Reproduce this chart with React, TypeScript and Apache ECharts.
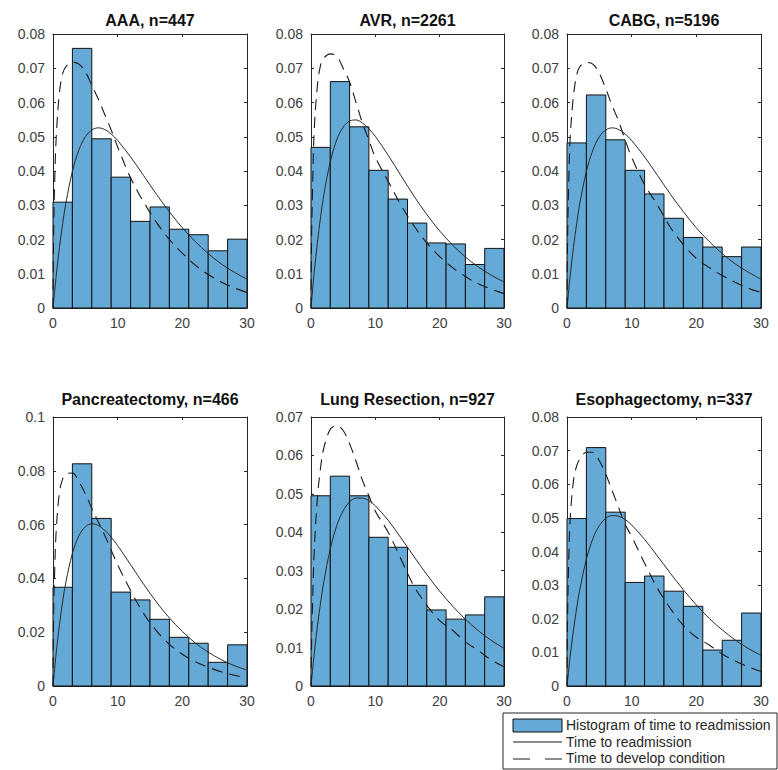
import React, { useEffect, useRef } from "react";
import * as echarts from "echarts";

// ---------- data ----------
const TITLES = [
  "AAA, n=447",
  "AVR, n=2261",
  "CABG, n=5196",
  "Pancreatectomy, n=466",
  "Lung Resection, n=927",
  "Esophagectomy, n=337",
];

const BIN_EDGES = [0, 3, 6, 9, 12, 15, 18, 21, 24, 27, 30];

const HIST_AAA = [0.0309, 0.0758, 0.0494, 0.0382, 0.0253, 0.0295, 0.023, 0.0214, 0.0167, 0.0201];
const HIST_AVR = [0.0469, 0.0661, 0.0529, 0.0402, 0.0318, 0.0248, 0.019, 0.0187, 0.0127, 0.0174];
const HIST_CABG = [0.0482, 0.0622, 0.0491, 0.0402, 0.0333, 0.0262, 0.0206, 0.0178, 0.015, 0.0178];
const HIST_PANC = [0.0367, 0.0826, 0.0623, 0.0349, 0.032, 0.0248, 0.0181, 0.0159, 0.0088, 0.0153];
const HIST_LUNG = [0.0495, 0.0546, 0.0495, 0.0387, 0.0361, 0.0262, 0.0198, 0.0174, 0.0185, 0.0232];
const HIST_ESOPH = [0.0498, 0.0709, 0.0517, 0.0308, 0.0327, 0.0282, 0.0237, 0.0107, 0.0136, 0.0217];

// "Time to readmission" (solid)
const SOLID_X = [0, 0.5, 1, 1.5, 2, 3, 4, 5, 6, 7, 8, 9, 10, 12, 14, 16, 18, 20, 22, 24, 26, 28, 30];
const SOLID_AAA = [0, 0.0095, 0.0177, 0.0247, 0.0307, 0.0399, 0.0461, 0.05, 0.052, 0.0526, 0.0521, 0.0508, 0.0489, 0.0441, 0.0387, 0.0332, 0.0281, 0.0234, 0.0194, 0.0159, 0.0129, 0.0105, 0.0084];
const SOLID_AVR = [0, 0.0104, 0.0192, 0.0267, 0.0331, 0.0427, 0.0491, 0.0528, 0.0546, 0.0549, 0.054, 0.0523, 0.0501, 0.0446, 0.0386, 0.0327, 0.0273, 0.0225, 0.0184, 0.0149, 0.012, 0.0096, 0.0076];
const SOLID_CABG = [0, 0.0095, 0.0177, 0.0247, 0.0307, 0.0399, 0.0461, 0.05, 0.052, 0.0526, 0.0521, 0.0508, 0.0489, 0.0441, 0.0387, 0.0332, 0.0281, 0.0234, 0.0194, 0.0159, 0.0129, 0.0105, 0.0084];
const SOLID_PANC = [0, 0.0124, 0.0228, 0.0315, 0.0387, 0.0493, 0.0558, 0.0592, 0.0603, 0.0597, 0.0579, 0.0553, 0.0522, 0.0451, 0.0379, 0.0312, 0.0253, 0.0203, 0.016, 0.0126, 0.0098, 0.0076, 0.0059];
const SOLID_LUNG = [0, 0.0083, 0.0156, 0.0218, 0.0272, 0.0357, 0.0417, 0.0456, 0.0479, 0.0489, 0.0489, 0.0482, 0.0469, 0.0431, 0.0385, 0.0337, 0.029, 0.0247, 0.0208, 0.0174, 0.0144, 0.0119, 0.0098];
const SOLID_ESOPH = [0, 0.0089, 0.0166, 0.0232, 0.0289, 0.0377, 0.0438, 0.0477, 0.0499, 0.0507, 0.0505, 0.0495, 0.0479, 0.0436, 0.0386, 0.0335, 0.0286, 0.0241, 0.0201, 0.0167, 0.0137, 0.0112, 0.0091];

// "Time to develop condition" (dashed)
const DASHED_X = [0, 0.1, 0.25, 0.5, 1, 1.5, 2, 3, 4, 5, 6, 7, 8, 9, 10, 12, 14, 16, 18, 20, 22, 24, 26, 28, 30];
const DASHED_AAA = [0, 0.022, 0.036, 0.05, 0.063, 0.0685, 0.0705, 0.0718, 0.0712, 0.069, 0.065, 0.061, 0.0565, 0.052, 0.047, 0.038, 0.031, 0.025, 0.02, 0.016, 0.0125, 0.0098, 0.0076, 0.0059, 0.0045];
const DASHED_AVR = [0, 0.022, 0.035, 0.052, 0.065, 0.071, 0.073, 0.0742, 0.0735, 0.07, 0.066, 0.06, 0.054, 0.049, 0.044, 0.037, 0.03, 0.024, 0.019, 0.015, 0.0118, 0.0092, 0.0071, 0.0055, 0.0042];
const DASHED_CABG = [0, 0.022, 0.035, 0.05, 0.062, 0.068, 0.0705, 0.0717, 0.0712, 0.0685, 0.064, 0.059, 0.0545, 0.049, 0.044, 0.036, 0.03, 0.0235, 0.0185, 0.0145, 0.0118, 0.0095, 0.0075, 0.0058, 0.0045];
const DASHED_PANC = [0, 0.027, 0.042, 0.058, 0.072, 0.077, 0.0788, 0.0792, 0.076, 0.0715, 0.066, 0.061, 0.056, 0.0505, 0.045, 0.0355, 0.027, 0.0205, 0.0155, 0.0118, 0.009, 0.007, 0.0053, 0.004, 0.003];
const DASHED_LUNG = [0, 0.012, 0.022, 0.035, 0.049, 0.057, 0.062, 0.0668, 0.0678, 0.0665, 0.063, 0.0585, 0.0535, 0.0495, 0.0455, 0.04, 0.033, 0.026, 0.021, 0.017, 0.0145, 0.0115, 0.0092, 0.0068, 0.005];
const DASHED_ESOPH = [0, 0.022, 0.036, 0.05, 0.061, 0.0655, 0.0675, 0.0695, 0.0695, 0.067, 0.063, 0.058, 0.053, 0.048, 0.0445, 0.0365, 0.029, 0.023, 0.018, 0.0145, 0.0122, 0.0095, 0.0074, 0.0057, 0.0043];

const Y_MAX = [0.08, 0.08, 0.08, 0.1, 0.07, 0.08];
const Y_STEP = [0.01, 0.01, 0.01, 0.02, 0.01, 0.01];
const X_TICKS = { min: 0, max: 30, step: 10 };

const LEGEND_LABELS = [
  "Histogram of time to readmission",
  "Time to readmission",
  "Time to develop condition",
];

const HISTS = [HIST_AAA, HIST_AVR, HIST_CABG, HIST_PANC, HIST_LUNG, HIST_ESOPH];
const SOLIDS = [SOLID_AAA, SOLID_AVR, SOLID_CABG, SOLID_PANC, SOLID_LUNG, SOLID_ESOPH];
const DASHEDS = [DASHED_AAA, DASHED_AVR, DASHED_CABG, DASHED_PANC, DASHED_LUNG, DASHED_ESOPH];

// ---------- layout / style ----------
const COL_LEFT = [53, 311, 567];
const COL_WIDTH = [194, 193, 194];
const ROW_TOP = [34, 417];
const ROW_HEIGHT = [274, 269];
const TITLE_Y = [20, 399];

const FONT = "'Liberation Sans', Arial, Helvetica, sans-serif";
const AX = "#262626";
const BAR_FILL = "#65A9D7";
const LABEL_COLOR = "#404040";

function buildOption() {
  const grid: any[] = [];
  const xAxis: any[] = [];
  const yAxis: any[] = [];
  const series: any[] = [];
  const graphic: any[] = [];

  for (let i = 0; i < 6; i++) {
    const r = Math.floor(i / 3);
    const c = i % 3;
    grid.push({
      left: COL_LEFT[c],
      top: ROW_TOP[r],
      width: COL_WIDTH[c],
      height: ROW_HEIGHT[r],
      containLabel: false,
    });
    const axLine = { show: true, onZero: false, lineStyle: { color: AX, width: 1 } };
    const axTick = { show: true, inside: true, length: 3, lineStyle: { color: AX, width: 1 } };
    xAxis.push({
      gridIndex: i,
      type: "value",
      min: X_TICKS.min,
      max: X_TICKS.max,
      interval: X_TICKS.step,
      position: "bottom",
      axisLine: axLine,
      axisTick: axTick,
      axisLabel: { fontSize: 14, color: LABEL_COLOR, margin: 8, fontFamily: FONT },
      splitLine: { show: false },
    });
    xAxis.push({
      gridIndex: i,
      type: "value",
      min: X_TICKS.min,
      max: X_TICKS.max,
      interval: X_TICKS.step,
      position: "top",
      axisLine: axLine,
      axisTick: axTick,
      axisLabel: { show: false },
      splitLine: { show: false },
    });
    yAxis.push({
      gridIndex: i,
      type: "value",
      min: 0,
      max: Y_MAX[i],
      interval: Y_STEP[i],
      position: "left",
      axisLine: axLine,
      axisTick: axTick,
      axisLabel: { fontSize: 14, color: LABEL_COLOR, margin: 8, fontFamily: FONT },
      splitLine: { show: false },
    });
    yAxis.push({
      gridIndex: i,
      type: "value",
      min: 0,
      max: Y_MAX[i],
      interval: Y_STEP[i],
      position: "right",
      axisLine: axLine,
      axisTick: axTick,
      axisLabel: { show: false },
      splitLine: { show: false },
    });

    const hist = HISTS[i];
    series.push({
      type: "custom",
      xAxisIndex: 2 * i,
      yAxisIndex: 2 * i,
      data: hist.map((v, k) => [BIN_EDGES[k], BIN_EDGES[k + 1], v]),
      encode: { x: [0, 1], y: 2 },
      z: 1,
      renderItem: (params: any, api: any) => {
        const p0 = api.coord([api.value(0), api.value(2)]);
        const p1 = api.coord([api.value(1), 0]);
        return {
          type: "rect",
          shape: { x: p0[0], y: p0[1], width: p1[0] - p0[0], height: p1[1] - p0[1] },
          style: { fill: BAR_FILL, stroke: "#111", lineWidth: 1 },
        };
      },
    });
    series.push({
      type: "line",
      xAxisIndex: 2 * i,
      yAxisIndex: 2 * i,
      data: SOLID_X.map((x, k) => [x, SOLIDS[i][k]]),
      symbol: "none",
      smooth: 0.35,
      z: 3,
      lineStyle: { color: "#2a2a2a", width: 1 },
    });
    series.push({
      type: "line",
      xAxisIndex: 2 * i,
      yAxisIndex: 2 * i,
      data: DASHED_X.map((x, k) => [x, DASHEDS[i][k]]),
      symbol: "none",
      smooth: 0.35,
      z: 3,
      lineStyle: { color: "#1a1a1a", width: 1.1, type: [11, 7] },
    });

    graphic.push({
      type: "text",
      x: COL_LEFT[c] + COL_WIDTH[c] / 2,
      y: TITLE_Y[r],
      style: {
        text: TITLES[i],
        font: `bold 16px ${FONT}`,
        fill: "#111",
        textAlign: "center",
        textVerticalAlign: "middle",
      },
    });
  }

  // legend box
  const LX = 503, LY = 713, LW = 274, LH = 56;
  graphic.push({
    type: "rect",
    shape: { x: LX, y: LY, width: LW, height: LH },
    style: { fill: "#fff", stroke: AX, lineWidth: 1 },
    z: 10,
  });
  graphic.push({
    type: "rect",
    shape: { x: 513, y: 719, width: 49, height: 13 },
    style: { fill: BAR_FILL, stroke: "#111", lineWidth: 1 },
    z: 11,
  });
  graphic.push({
    type: "line",
    shape: { x1: 513, y1: 742, x2: 562, y2: 742 },
    style: { stroke: "#1a1a1a", lineWidth: 1 },
    z: 11,
  });
  graphic.push({
    type: "line",
    shape: { x1: 513, y1: 759, x2: 562, y2: 759 },
    style: { stroke: "#1a1a1a", lineWidth: 1, lineDash: [17, 15] },
    z: 11,
  });
  const LEG_Y = [725, 742, 758];
  LEGEND_LABELS.forEach((t, k) => {
    graphic.push({
      type: "text",
      x: 566,
      y: LEG_Y[k],
      z: 11,
      style: {
        text: t,
        font: `14px ${FONT}`,
        fill: "#262626",
        textAlign: "left",
        textVerticalAlign: "middle",
      },
    });
  });

  return {
    animation: false,
    backgroundColor: "#fff",
    grid,
    xAxis,
    yAxis,
    series,
    graphic,
  };
}

export default function App() {
  const ref = useRef<HTMLDivElement>(null);
  useEffect(() => {
    if (!ref.current) return;
    const chart = echarts.init(ref.current, undefined, { renderer: "svg" });
    chart.setOption(buildOption());
    return () => chart.dispose();
  }, []);
  return (
    <div
      ref={ref}
      style={{ position: "fixed", left: 0, top: 0, width: 778, height: 770, background: "#fff" }}
    />
  );
}
